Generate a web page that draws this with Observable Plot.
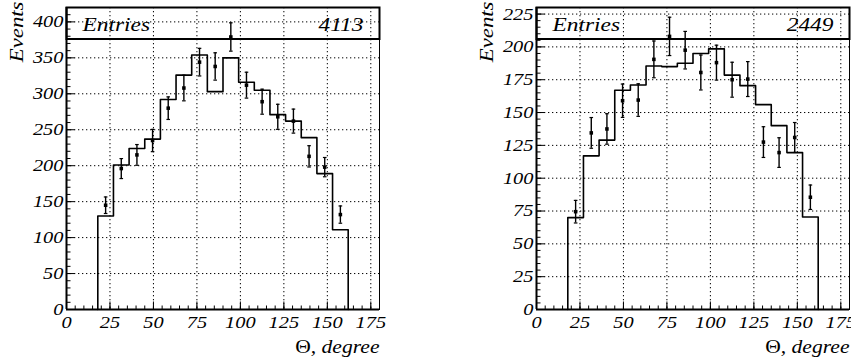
<!DOCTYPE html>
<html>
<head>
<meta charset="utf-8">
<script src="https://cdn.jsdelivr.net/npm/d3@7"></script>
<script src="https://cdn.jsdelivr.net/npm/@observablehq/plot@0.6"></script>
<style>
  body { margin: 0; background: #fff; }
  #row { display: flex; width: 851px; height: 358px; overflow: hidden; }
  #row svg { flex: none; }
</style>
</head>
<body>
<div id="row"></div>
<script>
// ---- data ----
const binEdges = [18, 27, 36, 45, 54, 63, 72, 81, 90, 99, 108, 117, 126, 135, 144, 153, 162];

const histA = [130, 201, 224, 237, 292, 326, 354, 303, 350, 316, 305, 271, 262, 239, 189, 111];
const pointsA = [145, 196, 215, 235, 280, 308, 344, 338, 379, 312, 289, 268, 262, 213, 198, 132];
const errorsA = [11.5, 13.9, 14.4, 15.5, 15.7, 17.8, 19.2, 19, 19.7, 18, 17.4, 17.4, 16.7, 14.8, 13.4, 12];

const histB = [70, 117, 129, 167, 171, 185.5, 185, 187.5, 195, 198.5, 178.5, 170.5, 156, 140, 119.5, 70.5];
const pointsB = [74.5, 134.5, 137.5, 159, 159.5, 190.5, 208, 197.5, 180.5, 188, 175, 175.5, 127.5, 119.5, 131, 85.5];
const errorsB = [8.6, 11.7, 11.6, 12.7, 12.4, 14, 14.6, 14.3, 13.3, 13.3, 13.3, 13.3, 11.7, 11.3, 11.4, 9.3];

const entriesA = ["4113"];
const entriesB = ["2449"];
const statName = ["Entries"];
const yTitle = ["Events"];
const xTitle = ["Θ, degree"];

const xTicks = [0, 25, 50, 75, 100, 125, 150, 175];
const yTicksA = [0, 50, 100, 150, 200, 250, 300, 350, 400];
const yTicksB = [0, 25, 50, 75, 100, 125, 150, 175, 200, 225];

// ---- symbols ----
const tickRight = (L) => ({ draw(ctx) { ctx.moveTo(0, 0); ctx.lineTo(L, 0); } });
const tickUp = (L) => ({ draw(ctx) { ctx.moveTo(0, 0); ctx.lineTo(0, -L); } });
const cap = { draw(ctx) { ctx.moveTo(-1.8, 0); ctx.lineTo(1.8, 0); } };

const FONT = "Liberation Serif";
const txt = {fontFamily: FONT, fontStyle: "italic", fill: "#000"};

function panel({hist, pts, err, entries, yMax, yMajor, yMinorStep, width, marginLeft, marginRight}) {
  const n = binEdges.length - 1;
  const step = [{x: binEdges[0], y: 0}]
    .concat(hist.map((v, i) => ({x: binEdges[i], y: v})))
    .concat([{x: binEdges[n], y: hist[n - 1]}, {x: binEdges[n], y: 0}]);
  const pd = pts.map((v, i) => ({x: (binEdges[i] + binEdges[i + 1]) / 2, y: v, lo: v - err[i], hi: v + err[i]}));
  const xMinor = d3.range(0, 181, 5);
  const yMinor = d3.range(0, yMax + 0.01, yMinorStep);
  const grid = {stroke: "#000", strokeOpacity: 1, strokeWidth: 1, strokeDasharray: "1.3,2.7"};
  const plotH = 358 - 7 - 49;
  const svg = Plot.plot({
    width, height: 358, marginLeft, marginRight, marginTop: 7, marginBottom: 49,
    x: {domain: [0, 180], axis: null},
    y: {domain: [0, yMax], axis: null},
    style: {background: "#fff", color: "#000", overflow: "visible"},
    marks: [
      Plot.gridX(xTicks.slice(1), grid),
      Plot.gridY(yMajor.slice(1), grid),
      Plot.frame({stroke: "#000", strokeWidth: 1}),
      Plot.line(step, {x: "x", y: "y", curve: "step-after", stroke: "#000", strokeWidth: 1.6}),
      Plot.ruleX(pd, {x: "x", y1: "lo", y2: "hi", stroke: "#000", strokeWidth: 1.4}),
      Plot.dot(pd, {x: "x", y: "lo", symbol: cap, r: 1, fill: "none", stroke: "#000", strokeWidth: 1.2}),
      Plot.dot(pd, {x: "x", y: "hi", symbol: cap, r: 1, fill: "none", stroke: "#000", strokeWidth: 1.2}),
      Plot.dot(pd, {x: "x", y: "y", symbol: "square", r: 2, fill: "#000", stroke: "none"}),
      // ticks
      Plot.dot(yMajor, {y: d => d, frameAnchor: "left", symbol: tickRight(8), r: 1, fill: "none", stroke: "#000", strokeWidth: 1}),
      Plot.dot(yMinor, {y: d => d, frameAnchor: "left", symbol: tickRight(4), r: 1, fill: "none", stroke: "#000", strokeWidth: 1}),
      Plot.dot(xTicks, {x: d => d, frameAnchor: "bottom", symbol: tickUp(8), r: 1, fill: "none", stroke: "#000", strokeWidth: 1}),
      Plot.dot(xMinor, {x: d => d, frameAnchor: "bottom", symbol: tickUp(4), r: 1, fill: "none", stroke: "#000", strokeWidth: 1}),
      Plot.ruleX([0], {stroke: "#000", strokeWidth: 2}),
      Plot.ruleY([0], {stroke: "#000", strokeWidth: 2}),
      // stats box
      Plot.frame({insetBottom: plotH - 31.5, stroke: "#000", strokeWidth: 2}),
      Plot.text(statName, {...txt, text: d => d, frameAnchor: "top-left", textAnchor: "start", lineAnchor: "top", dx: 16, dy: 10, fontSize: 19.5}),
      Plot.text(entries, {...txt, text: d => d, frameAnchor: "top-right", textAnchor: "end", lineAnchor: "top", dx: -16, dy: 10, fontSize: 19.5}),
      // axes labels
      Plot.axisX(xTicks, {...txt, anchor: "bottom", tickSize: 0, tickPadding: 6, fontSize: 17, label: null}),
      Plot.axisY(yMajor, {...txt, anchor: "left", tickSize: 0, tickPadding: 3, fontSize: 17, label: null}),
      Plot.text(yTitle, {...txt, text: d => d, frameAnchor: "top-left", rotate: -90, textAnchor: "end", lineAnchor: "top", dx: -57, dy: -6, fontSize: 19}),
      Plot.text(xTitle, {...txt, text: d => d, frameAnchor: "bottom-right", textAnchor: "end", lineAnchor: "top", dx: 0, dy: 31, fontSize: 18})
    ]
  });
  // horizontal stretch of text to mimic the wide ROOT font rendering
  svg.querySelectorAll("text").forEach(t => {
    t.setAttribute("font-family", "'Liberation Serif', serif");
    t.setAttribute("font-style", "italic");
    const tr = t.getAttribute("transform");
    if (tr) t.setAttribute("transform", tr + " scale(1.2,1)");
    if (t.textContent === xTitle[0]) {
      const rest = t.textContent.slice(1);
      t.textContent = "";
      const a = document.createElementNS("http://www.w3.org/2000/svg", "tspan");
      a.setAttribute("font-style", "normal");
      a.textContent = xTitle[0][0];
      const b = document.createElementNS("http://www.w3.org/2000/svg", "tspan");
      b.textContent = rest;
      t.appendChild(a); t.appendChild(b);
    }
  });
  return svg;
}

const row = document.getElementById("row");
row.appendChild(panel({hist: histA, pts: pointsA, err: errorsA, entries: entriesA, yMax: 420, yMajor: yTicksA, yMinorStep: 10, width: 425, marginLeft: 66, marginRight: 46}));
row.appendChild(panel({hist: histB, pts: pointsB, err: errorsB, entries: entriesB, yMax: 230, yMajor: yTicksB, yMinorStep: 5, width: 426, marginLeft: 111, marginRight: 2}));
</script>
</body>
</html>
